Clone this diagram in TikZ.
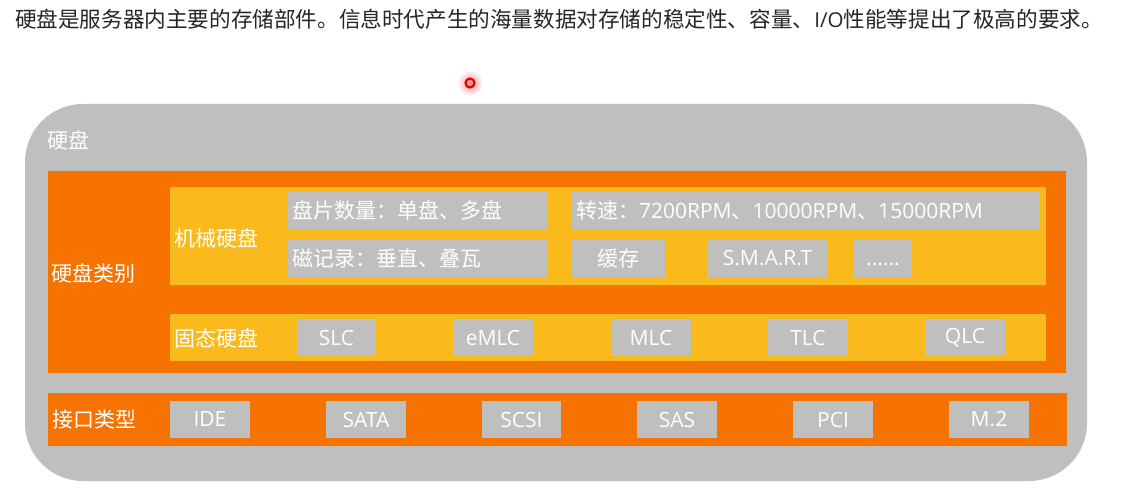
\documentclass[tikz,border=0pt]{standalone}
\usepackage{fontspec}
\newfontfamily\cjk{Noto Sans CJK SC}
\newfontfamily\latfont{Open Sans}
\newcommand\lat[1]{{\latfont\fontsize{21}{25}\selectfont #1}}
\definecolor{diskgray}{RGB}{191,191,191}
\definecolor{diskorange}{RGB}{247,115,0}
\definecolor{diskyellow}{RGB}{250,186,27}
\definecolor{titletext}{RGB}{38,38,38}
\tikzset{
  blk/.style={inner sep=0pt, outer sep=0pt, draw=none, text=white, font=\cjk\fontsize{21}{25}\selectfont},
  outerbox/.style={blk, fill=diskgray, rounded corners=58pt},
  orangebox/.style={blk, fill=diskorange},
  yellowbox/.style={blk, fill=diskyellow},
  graybox/.style={blk, fill=diskgray},
  lbl/.style={inner sep=0pt, outer sep=0pt, anchor=west, text=white, font=\cjk\fontsize{21}{25}\selectfont},
}
% style, name, x1, y1, x2, y2, text
\newcommand\blk[7]{\node[#1, minimum width={#5pt-#3pt}, minimum height={#6pt-#4pt}] (#2) at ({(#3+#5)/2},{(#4+#6)/2}) {#7};}
\begin{document}
\begin{tikzpicture}[x=1pt,y=-1pt]
\useasboundingbox (0,0) rectangle (1127,497);
\fill[white] (0,0) rectangle (1127,497);
% title
\node[inner sep=0pt, anchor=west, text=titletext, font=\cjk\fontsize{21.6}{25}\selectfont] (title) at (15,19) {硬盘是服务器内主要的存储部件。信息时代产生的海量数据对存储的稳定性、容量、{\latfont\fontsize{20.5}{25}\selectfont I/O}性能等提出了极高的要求。};
% pointer dot
\shade[inner color=red!45, outer color=white] (470,83) circle (13);
\node[circle, draw=red!90!black, line width=2.2pt, minimum size=9pt, inner sep=0pt] (dot) at (470,83) {};
% outer
\blk{outerbox}{disk}{25}{104}{1087}{481}{}
\node[lbl] (disklbl) at (47,140) {硬盘};
% categories
\blk{orangebox}{cat}{48}{171}{1066}{373}{}
\node[lbl] (catlbl) at (51,273) {硬盘类别};
% HDD
\blk{yellowbox}{hdd}{170}{187}{1046}{285}{}
\node[lbl] (hddlbl) at (174,238) {机械硬盘};
\blk{graybox}{pl}{288}{192}{548}{229}{}
\node[lbl] (pltxt) at ([xshift=4pt]pl.west) {盘片数量：单盘、多盘};
\blk{graybox}{rpm}{572}{192}{1040}{229}{}
\node[lbl] (rpmtxt) at ([xshift=4pt]rpm.west) {转速：\lat{7200RPM}、\lat{10000RPM}、\lat{15000RPM}};
\blk{graybox}{rec}{288}{240}{548}{277}{}
\node[lbl] (rectxt) at ([xshift=4pt]rec.west) {磁记录：垂直、叠瓦};
\blk{graybox}{cache}{572}{240}{665}{277}{缓存}
\blk{graybox}{smart}{707}{240}{828}{277}{\lat{S.M.A.R.T}}
\blk{graybox}{more}{854}{240}{912}{277}{\lat{\vphantom{S}......}}
% SSD
\blk{yellowbox}{ssd}{170}{314}{1046}{361}{}
\node[lbl] (ssdlbl) at (174,338) {固态硬盘};
\blk{graybox}{slc}{297}{319}{376}{356}{\lat{SLC}}
\blk{graybox}{emlc}{453}{319}{533}{356}{\lat{eMLC}}
\blk{graybox}{mlc}{611}{319}{691}{356}{\lat{MLC}}
\blk{graybox}{tlc}{768}{319}{848}{356}{\lat{TLC}}
\blk{graybox}{qlc}{925}{319}{1005}{356}{\lat{QLC}}
% interfaces
\blk{orangebox}{iface}{48}{393}{1067}{446}{}
\node[lbl] (ifacelbl) at (52,420) {接口类型};
\blk{graybox}{ide}{170}{401}{250}{438}{\lat{IDE}}
\blk{graybox}{sata}{326}{401}{406}{438}{\lat{SATA}}
\blk{graybox}{scsi}{482}{401}{561}{438}{\lat{SCSI}}
\blk{graybox}{sas}{637}{401}{717}{438}{\lat{SAS}}
\blk{graybox}{pci}{793}{401}{873}{438}{\lat{PCI}}
\blk{graybox}{m2}{949}{401}{1029}{438}{\lat{M.2}}
\end{tikzpicture}
\end{document}
